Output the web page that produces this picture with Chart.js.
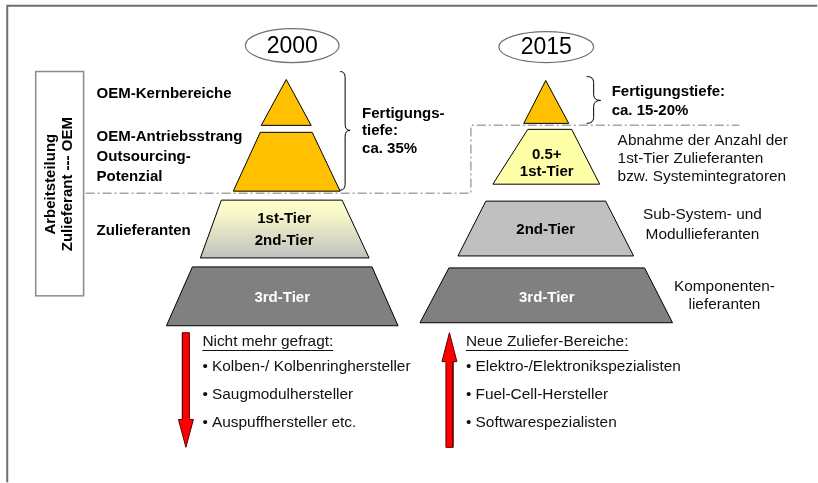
<!DOCTYPE html>
<html>
<head>
<meta charset="utf-8">
<script src="https://cdn.jsdelivr.net/npm/chart.js@4/dist/chart.umd.min.js"></script>
<style>
  html, body { margin: 0; padding: 0; background: #fff; }
  #wrap { width: 818px; height: 483px; position: relative; }
</style>
</head>
<body>
<div id="wrap"><canvas id="c" width="818" height="483"></canvas></div>
<script>
// ---------- Diagram values (diagram units on hidden linear axes) ----------
// 2000 pyramid, tiers from top to bottom
const tierNames2000 = ['OEM-Kernbereiche', 'OEM-Antriebsstrang', '1st/2nd-Tier', '3rd-Tier'];
const tierTop2000    = [79, 132, 200, 267];
const tierBottom2000 = [125, 191, 258, 326];
const tierTopL2000   = [286, 260, 221, 192];
const tierTopR2000   = [286, 312, 342, 372];
const tierBotL2000   = [261, 233, 200, 166];
const tierBotR2000   = [311, 340, 369, 398];

// 2015 pyramid, tiers from top to bottom
const tierNames2015 = ['OEM', '0.5+ 1st-Tier', '2nd-Tier', '3rd-Tier'];
const tierTop2015    = [80, 129, 201, 268];
const tierBottom2015 = [123, 184, 256, 323];
const tierTopL2015   = [546, 528, 486, 449];
const tierTopR2015   = [546, 572, 606, 645];
const tierBotL2015   = [524, 493, 458, 420];
const tierBotR2015   = [569, 600, 634, 673];

// Year labels
const years = ['2000', '2015'];

// Divider (dash-dot) path between OEM and supplier zones
const dividerX = [85, 471, 471, 740];
const dividerY = [193, 193, 125, 125];

// Trend arrows: [tipY, tailY]
const arrowDownY = [448, 333];
const arrowUpY   = [333, 448];

const orange = '#FFC000';

function polygon(tl, tr, br, bl, yt, yb) {
  return [{x: tl, y: yt}, {x: tr, y: yt}, {x: br, y: yb}, {x: bl, y: yb}, {x: tl, y: yt}];
}

function gradientFill(top, bottom) {
  return (c) => {
    const chart = c.chart;
    const ys = chart.scales && chart.scales.y;
    if (!ys) return '#e0e0c0';
    const a = ys.getPixelForValue(top), b = ys.getPixelForValue(bottom);
    if (!isFinite(a) || !isFinite(b)) return '#e0e0c0';
    const g = chart.ctx.createLinearGradient(0, a, 0, b);
    g.addColorStop(0, '#ffffcc');
    g.addColorStop(0.25, '#f7f7c8');
    g.addColorStop(1, '#c0c0c0');
    return g;
  };
}

const fills2000 = [orange, orange, gradientFill(tierTop2000[2], tierBottom2000[2]), '#808080'];
const fills2015 = [orange, '#ffffa8', '#c0c0c0', '#808080'];

const datasets = [];
function shapeDs(label, data, bg, border, width, dash) {
  return {
    label, data, showLine: true, fill: 'shape',
    backgroundColor: bg, borderColor: border, borderWidth: width,
    borderDash: dash || [], pointRadius: 0, tension: 0, borderJoinStyle: 'miter'
  };
}
tierNames2000.forEach((n, i) => {
  datasets.push(shapeDs('2000 ' + n,
    polygon(tierTopL2000[i], tierTopR2000[i], tierBotR2000[i], tierBotL2000[i], tierTop2000[i], tierBottom2000[i]),
    fills2000[i], '#000', 1));
});
tierNames2015.forEach((n, i) => {
  datasets.push(shapeDs('2015 ' + n,
    polygon(tierTopL2015[i], tierTopR2015[i], tierBotR2015[i], tierBotL2015[i], tierTop2015[i], tierBottom2015[i]),
    fills2015[i], '#000', 1));
});

// divider line
datasets.push({
  label: 'divider', data: dividerX.map((x, i) => ({x, y: dividerY[i]})),
  showLine: true, fill: false, borderColor: '#a6a6a6', borderWidth: 1.5,
  borderDash: [9, 3, 2, 3], pointRadius: 0, tension: 0
});

// arrows (polygons built from tip/tail values)
function arrow(cx, tipY, tailY) {
  const dir = tailY > tipY ? 1 : -1; // +1 => arrow points up
  const headLen = dir > 0 ? 29 : 28;
  const hw = 7.5, sw = 3.5;
  const hb = tipY + dir * headLen;
  return [
    {x: cx, y: tipY}, {x: cx + hw, y: hb}, {x: cx + sw, y: hb}, {x: cx + sw, y: tailY},
    {x: cx - sw, y: tailY}, {x: cx - sw, y: hb}, {x: cx - hw, y: hb}, {x: cx, y: tipY}
  ];
}
datasets.push(shapeDs('Nicht mehr gefragt', arrow(185.5, arrowDownY[0], arrowDownY[1]), '#ff0000', '#5a0000', 1));
datasets.push(shapeDs('Neue Zuliefer-Bereiche', arrow(449.5, arrowUpY[0], arrowUpY[1]), '#ff0000', '#5a0000', 1));

// ---------- Decorations plugin: frame, ellipses, braces, texts ----------
const F = '"Liberation Sans", Arial, Helvetica, sans-serif';
const N = '15.4px';
const texts = [
  // [text, x, y, font, color, align]
  ['OEM-Kernbereiche', 96, 93, 'bold 15px', '#000', 'left'],
  ['OEM-Antriebsstrang', 96, 137, 'bold 15px', '#000', 'left'],
  ['Outsourcing-', 96, 157, 'bold 15px', '#000', 'left'],
  ['Potenzial', 96, 177, 'bold 15px', '#000', 'left'],
  ['Zulieferanten', 96, 231, 'bold 15px', '#000', 'left'],
  ['1st-Tier', 284, 219, 'bold 15px', '#000', 'center'],
  ['2nd-Tier', 284, 241, 'bold 15px', '#000', 'center'],
  ['3rd-Tier', 282, 298, 'bold 15px', '#fff', 'center'],
  ['0.5+', 547, 155, 'bold 15px', '#000', 'center'],
  ['1st-Tier', 547, 172, 'bold 15px', '#000', 'center'],
  ['2nd-Tier', 546, 230, 'bold 15px', '#000', 'center'],
  ['3rd-Tier', 547, 298, 'bold 15px', '#fff', 'center'],
  ['Fertigungs-', 362, 113, 'bold 15px', '#000', 'left'],
  ['tiefe:', 362, 131, 'bold 15px', '#000', 'left'],
  ['ca. 35%', 362, 149, 'bold 15px', '#000', 'left'],
  ['Fertigungstiefe:', 612, 91, 'bold 15px', '#000', 'left'],
  ['ca. 15-20%', 612, 110, 'bold 15px', '#000', 'left'],
  ['Abnahme der Anzahl der', 618, 140, N, '#111', 'left'],
  ['1st-Tier Zulieferanten', 618, 158, N, '#111', 'left'],
  ['bzw. Systemintegratoren', 618, 177, N, '#111', 'left'],
  ['Sub-System- und', 703, 215, N, '#111', 'center'],
  ['Modullieferanten', 703, 235, N, '#111', 'center'],
  ['Komponenten-', 725, 287, N, '#111', 'center'],
  ['lieferanten', 725, 305, N, '#111', 'center'],
  ['Nicht mehr gefragt:', 202, 342, N, '#111', 'left', true],
  ['• Kolben-/ Kolbenringhersteller', 202, 367, N, '#111', 'left'],
  ['• Saugmodulhersteller', 202, 395, N, '#111', 'left'],
  ['• Auspuffhersteller etc.', 202, 423, N, '#111', 'left'],
  ['Neue Zuliefer-Bereiche:', 466, 342, N, '#111', 'left', true],
  ['• Elektro-/Elektronikspezialisten', 466, 367, N, '#111', 'left'],
  ['• Fuel-Cell-Hersteller', 466, 395, N, '#111', 'left'],
  ['• Softwarespezialisten', 466, 423, N, '#111', 'left']
];

const decor = {
  id: 'decor',
  beforeDatasetsDraw(chart) {
    const ctx = chart.ctx, xs = chart.scales.x, ys = chart.scales.y;
    const X = v => xs.getPixelForValue(v), Y = v => ys.getPixelForValue(v);
    ctx.save();
    // frame
    ctx.strokeStyle = '#6e6e6e'; ctx.lineWidth = 2;
    ctx.beginPath(); ctx.moveTo(X(818), Y(5)); ctx.lineTo(X(6.5), Y(5)); ctx.lineTo(X(6.5), Y(483)); ctx.stroke();
    // side box
    ctx.strokeStyle = '#8a8a8a'; ctx.lineWidth = 1.5;
    ctx.strokeRect(X(35), Y(71), X(83) - X(35), Y(296) - Y(71));
    ctx.restore();
  },
  afterDatasetsDraw(chart) {
    const ctx = chart.ctx, xs = chart.scales.x, ys = chart.scales.y;
    const X = v => xs.getPixelForValue(v), Y = v => ys.getPixelForValue(v);
    ctx.save();
    // year ellipses
    const ell = [[292, 45, 47, 17], [546.5, 46.5, 47.5, 15.5]];
    ell.forEach((e, i) => {
      ctx.beginPath();
      ctx.ellipse(X(e[0]), Y(e[1]), Math.abs(X(e[0] + e[2]) - X(e[0])), Math.abs(Y(e[1] + e[3]) - Y(e[1])), 0, 0, Math.PI * 2);
      ctx.fillStyle = '#fff'; ctx.fill();
      ctx.strokeStyle = '#707070'; ctx.lineWidth = 1.2; ctx.stroke();
      ctx.fillStyle = '#000'; ctx.font = '23px ' + F; ctx.textAlign = 'center'; ctx.textBaseline = 'middle';
      ctx.fillText(years[i], X(e[0]), Y(e[1] + 1));
    });
    // braces
    function brace(x0, x1, yt, yb, ym) {
      const xm = (x0 + x1) / 2, r = 6;
      ctx.beginPath();
      ctx.moveTo(X(x0), Y(yt));
      ctx.quadraticCurveTo(X(xm), Y(yt), X(xm), Y(yt + r));
      ctx.lineTo(X(xm), Y(ym - r));
      ctx.quadraticCurveTo(X(xm), Y(ym), X(x1), Y(ym));
      ctx.quadraticCurveTo(X(xm), Y(ym), X(xm), Y(ym + r));
      ctx.lineTo(X(xm), Y(yb - r));
      ctx.quadraticCurveTo(X(xm), Y(yb), X(x0), Y(yb));
      ctx.strokeStyle = '#000'; ctx.lineWidth = 1; ctx.stroke();
    }
    brace(340, 350, 71, 190, 130);
    brace(587, 601, 76, 123, 100);
    // texts
    ctx.textBaseline = 'middle';
    texts.forEach(t => {
      ctx.font = t[3] + ' ' + F;
      ctx.fillStyle = t[4];
      ctx.textAlign = t[5];
      ctx.fillText(t[0], X(t[1]), Y(t[2]));
      if (t[6]) {
        const w = ctx.measureText(t[0]).width;
        ctx.strokeStyle = t[4]; ctx.lineWidth = 1;
        ctx.beginPath(); ctx.moveTo(X(t[1]), Math.round(Y(t[2] + 8)) + 0.5); ctx.lineTo(X(t[1]) + w, Math.round(Y(t[2] + 8)) + 0.5); ctx.stroke();
      }
    });
    // rotated side label
    ctx.save();
    ctx.translate(X(59), Y(184));
    ctx.rotate(-Math.PI / 2);
    ctx.font = 'bold 15px ' + F; ctx.fillStyle = '#000'; ctx.textAlign = 'center'; ctx.textBaseline = 'middle';
    ctx.fillText('Arbeitsteilung', 0, -9);
    ctx.fillText('Zulieferant --- OEM', 0, 8);
    ctx.restore();
    ctx.restore();
  }
};

const chart = new Chart(document.getElementById('c'), {
  type: 'scatter',
  data: { datasets },
  options: {
    responsive: false,
    animation: false,
    layout: { padding: 0 },
    scales: {
      x: { type: 'linear', min: 0, max: 818, display: false },
      y: { type: 'linear', min: 0, max: 483, reverse: true, display: false }
    },
    plugins: { legend: { display: false }, tooltip: { enabled: false } },
    elements: { point: { radius: 0 }, line: { tension: 0 } }
  },
  plugins: [decor]
});
chart.update();
</script>
</body>
</html>
